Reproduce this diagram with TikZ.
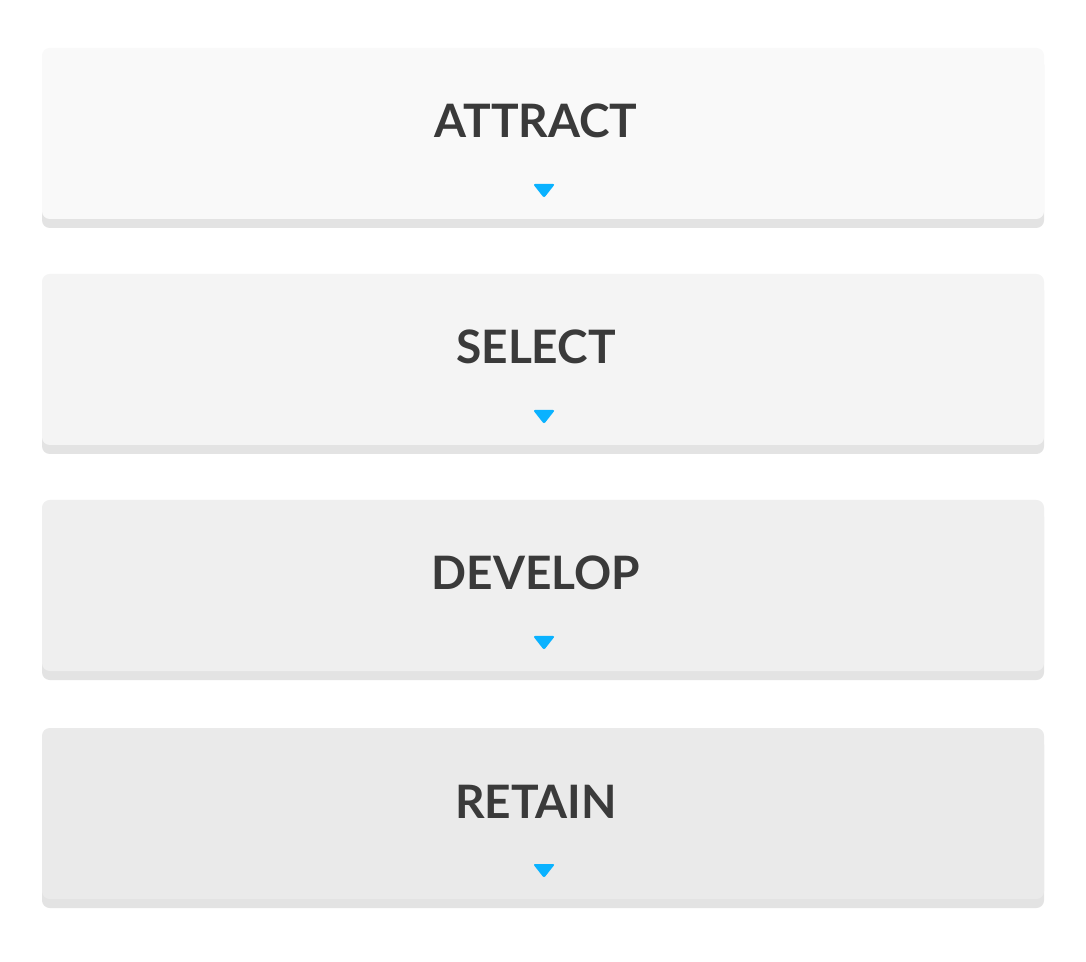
\documentclass[tikz,border=0pt]{standalone}
\usepackage{fontspec}
\setmainfont{Lato}
\usepackage{xcolor}
\usetikzlibrary{positioning}

\definecolor{faceA}{HTML}{F9F9F9}
\definecolor{faceB}{HTML}{F4F4F4}
\definecolor{faceC}{HTML}{EFEFEF}
\definecolor{faceD}{HTML}{EAEAEA}
\definecolor{shade}{HTML}{E3E3E3}
\definecolor{ink}{HTML}{3A3A3A}
\definecolor{tip}{HTML}{0AB2FF}

\begin{document}
\begin{tikzpicture}[x=0.01cm,y=-0.01cm,
    shadow/.style={fill=shade,draw=none,rounded corners=2.2pt},
    face/.style={draw=none,rounded corners=2.2pt},
    stage/.style={anchor=base,text=ink,inner sep=0pt,font=\bfseries\fontsize{13.1}{15}\selectfont},
    marker/.style={fill=tip,draw=none,rounded corners=0.6pt}]
    \fill[white] (0,0) rectangle (1086,962);
    \useasboundingbox (0,0) rectangle (1086,962);

    % Stage 1: attract
    \fill[shadow] (42,57) rectangle (1044,228);
    \fill[face,fill=faceA] (42,48) rectangle (1044,219);
    \node[stage] (attract) at (536,138) {ATTRACT};
    \fill[marker] (533,184) -- (555,184) -- (544,198) -- cycle;

    % Stage 2: select
    \fill[shadow] (42,283) rectangle (1044,454);
    \fill[face,fill=faceB] (42,274) rectangle (1044,445);
    \node[stage] (select) at (536,364) {SELECT};
    \fill[marker] (533,410) -- (555,410) -- (544,424) -- cycle;

    % Stage 3: develop
    \fill[shadow] (42,509) rectangle (1044,680);
    \fill[face,fill=faceC] (42,500) rectangle (1044,671);
    \node[stage] (develop) at (536,590) {DEVELOP};
    \fill[marker] (533,636) -- (555,636) -- (544,650) -- cycle;

    % Stage 4: retain
    \fill[shadow] (42,737) rectangle (1044,908);
    \fill[face,fill=faceD] (42,728) rectangle (1044,899);
    \node[stage] (retain) at (536,818) {RETAIN};
    \fill[marker] (533,864) -- (555,864) -- (544,878) -- cycle;
\end{tikzpicture}
\end{document}
